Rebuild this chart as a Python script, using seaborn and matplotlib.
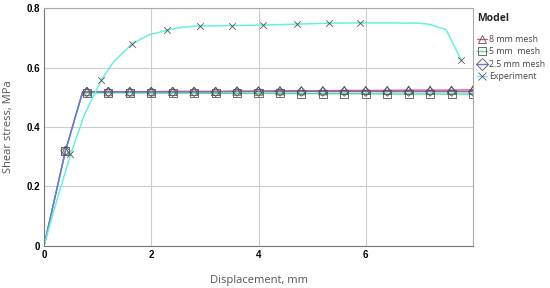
import numpy as np
import pandas as pd
import matplotlib
matplotlib.use("Agg")
import matplotlib.pyplot as plt
from matplotlib.lines import Line2D
import seaborn as sns

# model curves (displacement mm, shear stress MPa)
x_model = [0, 0.4, 0.72, 0.8, 1.2, 1.6, 2.0, 2.4, 2.8, 3.2, 3.6, 4.0, 4.4, 4.8,
           5.2, 5.6, 6.0, 6.4, 6.8, 7.2, 7.6, 8.0]
y_8mm = [0, 0.32, 0.518, 0.519, 0.519, 0.519, 0.519, 0.52, 0.52, 0.52, 0.521, 0.521,
         0.522, 0.522, 0.522, 0.523, 0.523, 0.523, 0.524, 0.524, 0.524, 0.525]
y_5mm = [0, 0.32, 0.516, 0.515, 0.515, 0.515, 0.514, 0.514, 0.514, 0.513, 0.513, 0.513,
         0.513, 0.512, 0.512, 0.512, 0.512, 0.511, 0.511, 0.511, 0.511, 0.511]
y_25mm = [0, 0.32, 0.518, 0.518, 0.518, 0.518, 0.518, 0.518, 0.518, 0.518, 0.519, 0.519,
          0.519, 0.519, 0.519, 0.519, 0.519, 0.519, 0.519, 0.519, 0.519, 0.519]

# marker positions on the model curves
x_mark = [0.4, 0.8, 1.2, 1.6, 2.0, 2.4, 2.8, 3.2, 3.6, 4.0, 4.4, 4.8, 5.2, 5.6,
          6.0, 6.4, 6.8, 7.2, 7.6, 8.0]

# experiment curve
x_exp = [0, 0.25, 0.5, 0.75, 1.07, 1.3, 1.64, 1.85, 2.0, 2.1, 2.3, 2.6, 2.9, 3.5,
         4.09, 4.71, 5.31, 5.9, 6.5, 7.0, 7.2, 7.5, 7.78]
y_exp = [0, 0.16, 0.31, 0.44, 0.558, 0.62, 0.679, 0.70, 0.713, 0.716, 0.726, 0.736,
         0.740, 0.741, 0.743, 0.746, 0.749, 0.75, 0.75, 0.749, 0.745, 0.727, 0.625]
x_exp_mark = [0.49, 1.07, 1.64, 2.3, 2.9, 3.5, 4.09, 4.71, 5.31, 5.9, 7.78]
y_exp_mark = [0.31, 0.558, 0.679, 0.726, 0.740, 0.741, 0.743, 0.746, 0.749, 0.75, 0.625]

x_ticks = [0, 2, 4, 6]
y_ticks = [0, 0.2, 0.4, 0.6, 0.8]
x_tick_labels = ["0", "2", "4", "6"]
y_tick_labels = ["0", "0.2", "0.4", "0.6", "0.8"]

labels = ["8 mm mesh", "5 mm  mesh", "2.5 mm mesh", "Experiment"]
colors = ["#e8507a", "#3ee890", "#7070e0", "#66f0e4"]
markers = ["^", "s", "D", "x"]

sns.set_style("white")
plt.rcParams["font.family"] = ["Open Sans", "DejaVu Sans"]

fig = plt.figure(figsize=(5.5, 2.88), dpi=100)
ax = fig.add_axes([0.08, 0.146, 0.78, 0.826])

model_ys = [y_8mm, y_5mm, y_25mm]
for y, c in zip(model_ys, colors[:3]):
    sns.lineplot(x=x_model, y=y, color=c, lw=1.0, ax=ax, sort=False)

sns.lineplot(x=x_exp, y=y_exp, color=colors[3], lw=1.1, ax=ax, sort=False)

mark_color = "#555555"
for y, m, ms in zip(model_ys, markers[:3], [36, 34, 22]):
    ym = [np.interp(v, x_model, y) for v in x_mark]
    ax.scatter(x_mark, ym, marker=m, s=ms, facecolors="none",
               edgecolors=mark_color, linewidths=0.6, zorder=3)
ax.scatter(x_exp_mark, y_exp_mark, marker="x", s=22, color=mark_color,
           linewidths=0.6, zorder=3)

ax.set_xlim(0, 8)
ax.set_ylim(0, 0.8)
ax.set_xticks(x_ticks)
ax.set_xticklabels(x_tick_labels)
ax.set_yticks(y_ticks)
ax.set_yticklabels(y_tick_labels)
ax.set_xticks([1, 3, 5, 7], minor=True)
ax.set_yticks([0.1, 0.3, 0.5, 0.7], minor=True)
ax.grid(True, which="major", color="#cccccc", lw=0.8)
ax.tick_params(which="both", direction="in", length=3, width=0.8, colors="#999999",
               labelcolor="black", labelsize=7, pad=3)
ax.tick_params(which="minor", length=4)
for lab in ax.get_xticklabels() + ax.get_yticklabels():
    lab.set_fontweight("bold")
    lab.set_family(["Liberation Sans"])
for s in ["left", "bottom"]:
    ax.spines[s].set_color("#777777")
for s in ["top", "right"]:
    ax.spines[s].set_color("#aaaaaa")
for s in ax.spines.values():
    s.set_linewidth(0.8)

ax.set_xlabel("Displacement, mm", fontsize=8, color="#555555", labelpad=11)
ax.set_ylabel("Shear stress, MPa", fontsize=8, color="#555555", labelpad=9)

handles = [Line2D([], [], color=c, lw=1.0, marker=m, markersize=6,
                  markerfacecolor="none", markeredgecolor=mark_color, markeredgewidth=0.6)
           for c, m in zip(colors, markers)]
leg = fig.legend(handles, labels, loc="upper left", bbox_to_anchor=(0.868, 0.955),
                 frameon=False, fontsize=6.3, title="Model", handlelength=1.1,
                 handletextpad=0.25, labelspacing=0.38, borderaxespad=0, borderpad=0)
leg.get_title().set_fontweight("bold")
leg.get_title().set_fontsize(7.5)
leg._legend_box.align = "left"
leg._legend_box.sep = 8
for t in leg.get_texts():
    t.set_color("#444444")

fig.savefig("out.png", dpi=100)
